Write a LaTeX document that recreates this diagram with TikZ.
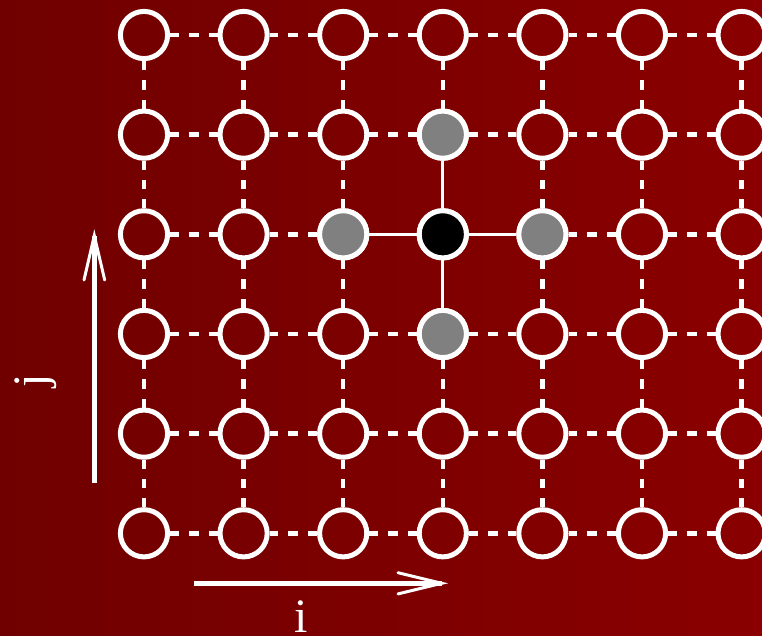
\documentclass[tikz,border=0pt]{standalone}
\usepackage{fontspec}
\setmainfont{Liberation Serif}
\definecolor{bgl}{RGB}{112,0,0}
\definecolor{bgr}{RGB}{138,0,0}
\definecolor{site}{RGB}{128,128,128}
\pgfdeclarelayer{bg}
\pgfsetlayers{bg,main}
\tikzset{
  site/.style={circle,draw=white,line width=5pt,minimum size=47.2pt,inner sep=0pt,outer sep=2.5pt},
  dashedge/.style={draw=white,line width=4.5pt,dash pattern=on 9.96pt off 9.96pt,dash phase=1.2pt},
  solidedge/.style={draw=white,line width=3.2pt},
  axis/.style={draw=white,line width=4.5pt},
  barb/.style={draw=white,line width=3pt,line cap=round},
  lbl/.style={text=white,font=\fontsize{48}{50}\selectfont,inner sep=0pt}
}
\begin{document}
\begin{tikzpicture}[x=1pt,y=1pt]
\useasboundingbox (0,0) rectangle (762,635);
\begin{pgfonlayer}{bg}
\shade[left color=bgl,right color=bgr] (0,0) rectangle (762,635);
\end{pgfonlayer}
\clip (0,0) rectangle (762,635);
% lattice sites: column c (0..6), row r (0..5, from bottom)
\foreach \c in {0,...,6}{
  \foreach \r in {0,...,5}{
    \node[site] (n-\c-\r) at ({144+99.6*\c},{101.7+99.66*\r}) {};
  }
}
\node[site,fill=black] at (n-3-3) {};
\node[site,fill=site] at (n-3-4) {};
\node[site,fill=site] at (n-2-3) {};
\node[site,fill=site] at (n-4-3) {};
\node[site,fill=site] at (n-3-2) {};
% horizontal edges
\foreach \c [evaluate=\c as \d using int(\c+1)] in {0,...,5}{
  \foreach \r in {0,...,5}{
    \pgfmathtruncatemacro{\sol}{(\r==3)&&((\c==2)||(\c==3))}
    \ifnum\sol=1
      \draw[solidedge] (n-\c-\r) -- (n-\d-\r);
    \else
      \draw[dashedge] (n-\c-\r) -- (n-\d-\r);
    \fi
  }
}
% vertical edges
\foreach \c in {0,...,6}{
  \foreach \r [evaluate=\r as \s using int(\r+1)] in {0,...,4}{
    \pgfmathtruncatemacro{\sol}{(\c==3)&&((\r==2)||(\r==3))}
    \ifnum\sol=1
      \draw[solidedge] (n-\c-\r) -- (n-\c-\s);
    \else
      \draw[dashedge] (n-\c-\r) -- (n-\c-\s);
    \fi
  }
}
% j axis
\coordinate (jtail) at (94.3,152);
\coordinate (jtip) at (94.3,399.3);
\coordinate (jb1) at (84,355);
\coordinate (jb2) at (104.7,355);
\draw[axis] (jtail) -- (jtip);
\draw[barb] (jb1) -- (jtip) -- (jb2);
\node[lbl,rotate=90,anchor=base] (jlab) at (46,254) {j};
% i axis
\coordinate (itail) at (194,51.7);
\coordinate (itip) at (441.7,51.7);
\coordinate (ib1) at (398,62.3);
\coordinate (ib2) at (398,41.1);
\draw[axis] (itail) -- (itip);
\draw[barb] (ib1) -- (itip) -- (ib2);
\node[lbl,anchor=base] (ilab) at (301,3) {i};
\end{tikzpicture}
\end{document}
